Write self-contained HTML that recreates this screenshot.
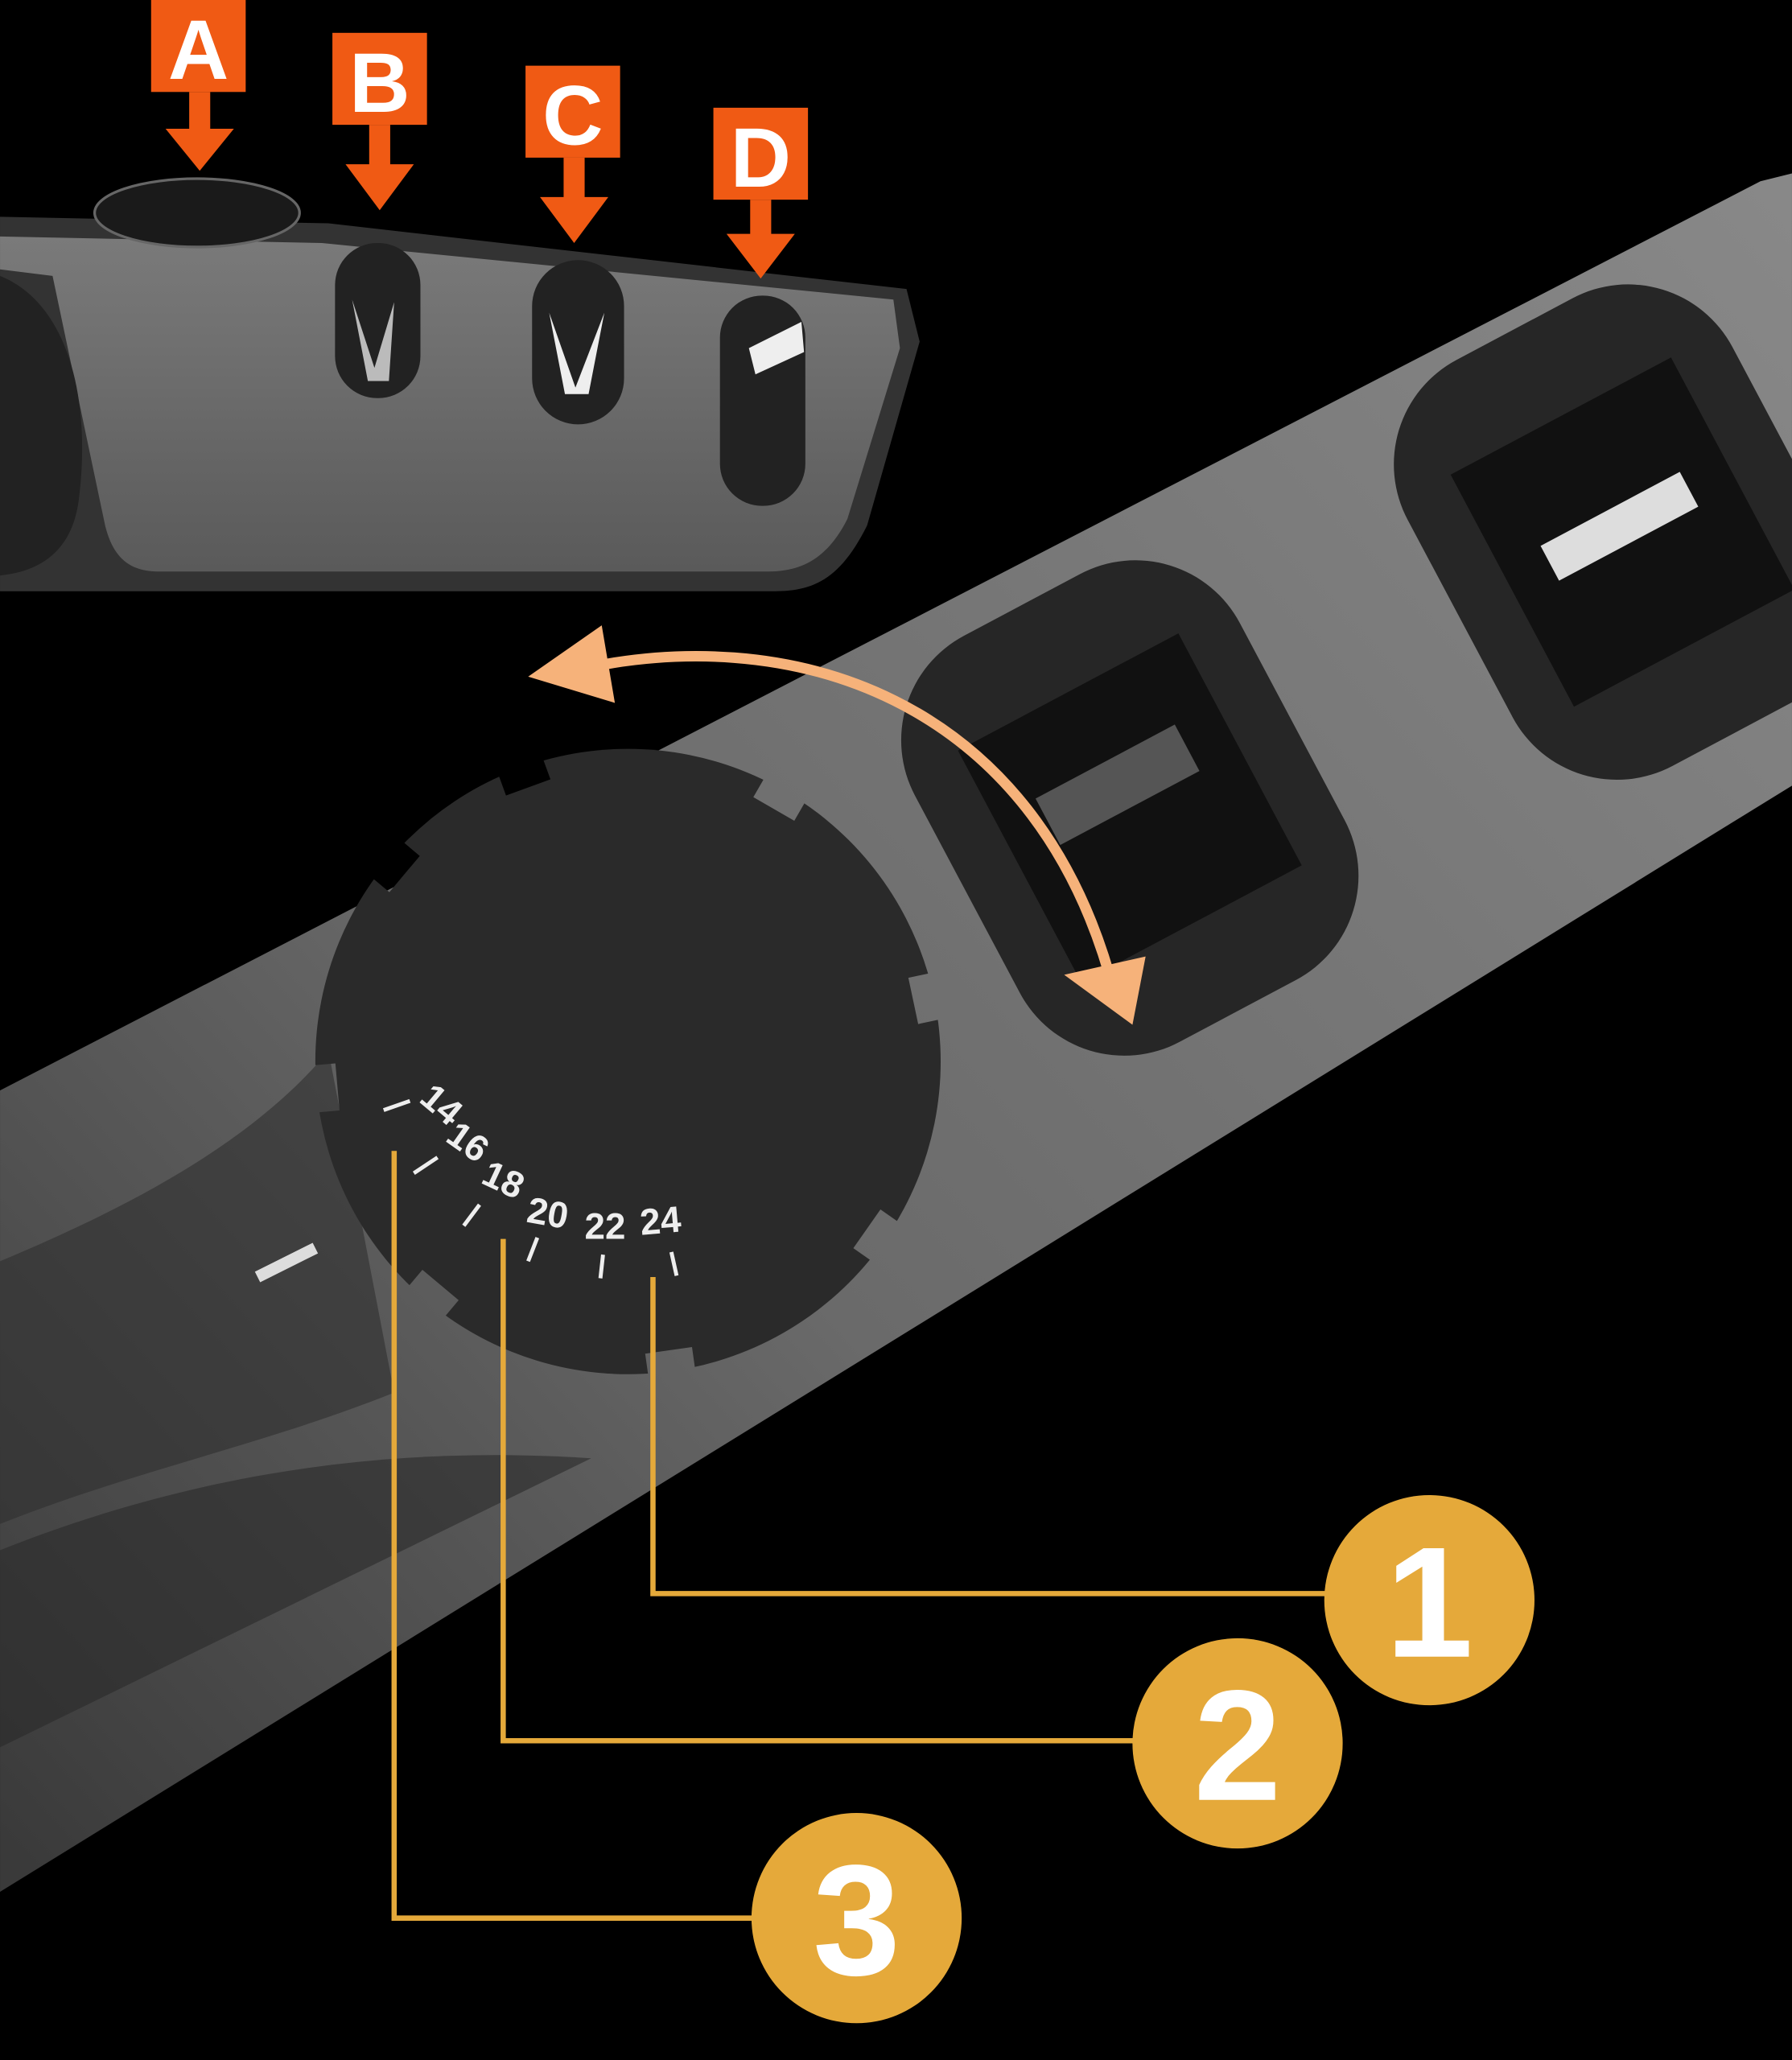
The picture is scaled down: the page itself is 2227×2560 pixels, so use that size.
<!DOCTYPE html>
<html><head><meta charset="utf-8"><style>
html,body{margin:0;padding:0;background:#000;}
svg{display:block}
</style></head><body>
<svg width="2227" height="2560" viewBox="0 0 1364 1568" xmlns="http://www.w3.org/2000/svg">
<defs>
<linearGradient id="bar" gradientUnits="userSpaceOnUse" x1="0" y1="1400" x2="1364" y2="150">
<stop offset="0" stop-color="#3a3a3a"/><stop offset="0.4" stop-color="#6a6a6a"/><stop offset="1" stop-color="#888"/>
</linearGradient>
<linearGradient id="top" x1="0" y1="0" x2="0" y2="1">
<stop offset="0" stop-color="#7a7a7a"/><stop offset="1" stop-color="#5a5a5a"/>
</linearGradient>
<mask id="dm">
<rect x="-300" y="-300" width="600" height="600" fill="#000"/>
<circle r="238" fill="#fff"/>
<g fill="#000">
<rect x="-18" y="-262" width="36" height="40" transform="rotate(-20)"/>
<rect x="-18" y="-262" width="36" height="40" transform="rotate(30)"/>
<rect x="-18" y="-262" width="36" height="40" transform="rotate(78)"/>
<rect x="-18" y="-262" width="36" height="40" transform="rotate(125)"/>
<rect x="-18" y="-262" width="36" height="40" transform="rotate(172)"/>
<rect x="-18" y="-262" width="36" height="40" transform="rotate(220)"/>
<rect x="-18" y="-262" width="36" height="40" transform="rotate(265)"/>
<rect x="-18" y="-262" width="36" height="40" transform="rotate(310)"/>
</g>
</mask>
</defs>
<rect width="1364" height="1568" fill="#000"/>
<!-- big diagonal bar -->
<polygon points="0,830 1340,138 1364,132 1364,598 0,1440" fill="url(#bar)"/>
<path d="M0,960 C120,910 200,860 250,800 L300,1060 C200,1100 100,1120 0,1160 Z" fill="#2e2e2e" opacity="0.6"/>
<path d="M0,1180 C150,1120 300,1100 450,1110 L0,1330 Z" fill="#2a2a2a" opacity="0.6"/>
<!-- slots on bar -->
<g transform="translate(860,615) rotate(-28)">
<rect x="-140" y="-175" width="280" height="350" rx="90" fill="#262626"/>
<rect x="-95" y="-100" width="190" height="200" fill="#111"/>
<rect x="-60" y="-40" width="120" height="40" fill="#555"/>
</g>
<g transform="translate(1235,405) rotate(-28)">
<rect x="-140" y="-175" width="280" height="350" rx="90" fill="#262626"/>
<rect x="-95" y="-100" width="190" height="200" fill="#111"/>
<rect x="-60" y="-20" width="120" height="30" fill="#ddd"/>
</g>
<!-- dial -->
<g transform="translate(478,808)">
<rect x="-260" y="-260" width="520" height="520" fill="#2a2a2a" mask="url(#dm)"/>
</g>
<g fill="#eee" font-family="Liberation Sans, sans-serif" font-size="28" font-weight="bold">
<text x="318" y="838" transform="rotate(40 318 838)">14</text>
<text x="338" y="868" transform="rotate(35 338 868)">16</text>
<text x="365" y="900" transform="rotate(25 365 900)">18</text>
<text x="400" y="930" transform="rotate(10 400 930)">20</text>
<text x="445" y="943">22</text>
<text x="488" y="940" transform="rotate(-5 488 940)">24</text>
</g>
<g stroke="#eee" stroke-width="3">
<line x1="292" y1="845" x2="312" y2="838"/>
<line x1="315" y1="893" x2="333" y2="881"/>
<line x1="353" y1="933" x2="365" y2="917"/>
<line x1="402" y1="960" x2="409" y2="942"/>
<line x1="457" y1="973" x2="459" y2="955"/>
<line x1="515" y1="971" x2="511" y2="953"/>
</g>
<line x1="196" y1="972" x2="240" y2="950" stroke="#ddd" stroke-width="9"/>
<!-- orange arc arrow -->
<path d="M430,512 C600,470 790,530 848,755" fill="none" stroke="#f6b27a" stroke-width="8"/>
<polygon points="402,515 458,476 468,535" fill="#f6b27a"/>
<polygon points="862,780 810,742 872,728" fill="#f6b27a"/>
<!-- top sharpener -->
<path d="M0,165 L250,170 L690,220 L700,260 L660,400 C640,440 620,450 590,450 L0,450 Z" fill="#333"/>
<path d="M0,180 L245,185 L680,228 L685,265 L645,395 C630,425 610,435 585,435 L120,435 C95,435 85,420 80,400 L40,210 L0,205 Z" fill="url(#top)"/>
<path d="M0,210 C50,230 70,300 60,380 C55,420 30,435 0,438 Z" fill="#222"/>
<rect x="255" y="185" width="65" height="118" rx="32" fill="#222"/>
<rect x="405" y="198" width="70" height="125" rx="35" fill="#222"/>
<rect x="548" y="225" width="65" height="160" rx="32" fill="#222"/>
<polygon points="268,228 285,280 300,230 296,290 280,290" fill="#bbb"/>
<polygon points="418,238 438,295 460,238 448,300 430,300" fill="#eee"/>
<polygon points="570,265 610,245 612,268 575,285" fill="#eee"/>
<ellipse cx="150" cy="162" rx="78" ry="26" fill="#1a1a1a" stroke="#666" stroke-width="2"/>
<!-- labels -->
<g fill="#f05a14">
<rect x="115" y="0" width="72" height="70"/>
<rect x="253" y="25" width="72" height="70"/>
<rect x="400" y="50" width="72" height="70"/>
<rect x="543" y="82" width="72" height="70"/>
<rect x="144" y="70" width="16" height="30"/><polygon points="126,98 178,98 152,130"/>
<rect x="281" y="95" width="16" height="32"/><polygon points="263,125 315,125 289,160"/>
<rect x="429" y="120" width="16" height="32"/><polygon points="411,150 463,150 437,185"/>
<rect x="571" y="152" width="16" height="28"/><polygon points="553,178 605,178 579,212"/>
</g>
<g fill="#fff" font-family="Liberation Sans, sans-serif" font-weight="bold" font-size="64" text-anchor="middle">
<text x="151" y="60">A</text><text x="289" y="85">B</text><text x="436" y="110">C</text><text x="579" y="142">D</text>
</g>
<!-- callouts -->
<g fill="none" stroke="#e5a93a" stroke-width="4">
<polyline points="497,972 497,1213 1010,1213"/>
<polyline points="383,943 383,1325 865,1325"/>
<polyline points="300,876 300,1460 575,1460"/>
</g>
<g fill="#e5a93a">
<circle cx="1088" cy="1218" r="80"/><circle cx="942" cy="1327" r="80"/><circle cx="652" cy="1460" r="80"/>
</g>
<g fill="#fff" font-family="Liberation Sans, sans-serif" font-weight="bold" font-size="120" text-anchor="middle">
<text x="1088" y="1261">1</text><text x="942" y="1370">2</text><text x="652" y="1503">3</text>
</g>
</svg>
</body></html>
